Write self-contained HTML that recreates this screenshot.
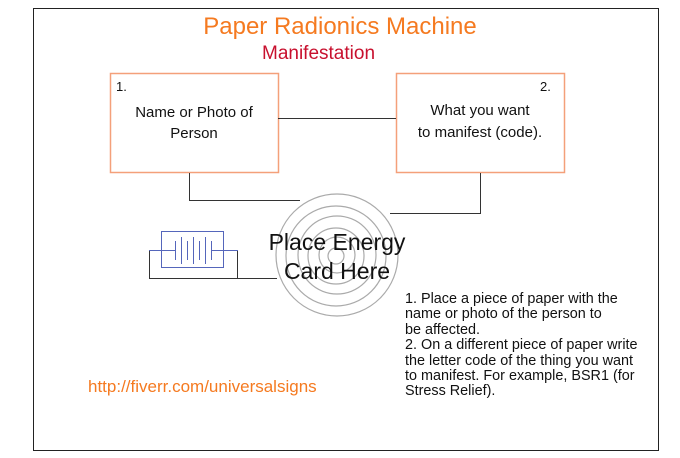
<!DOCTYPE html>
<html><head><meta charset="utf-8"><style>
body{margin:0;background:#fff;width:680px;height:458px;position:relative;overflow:hidden;font-family:"Liberation Sans",sans-serif}
.a{position:absolute;white-space:nowrap}
</style></head><body>
<svg width="680" height="458" style="position:absolute;left:0;top:0">
<rect x="33.5" y="8.5" width="625" height="442" fill="none" stroke="#222" stroke-width="1"/>
<rect x="110.5" y="73.5" width="168" height="99" fill="none" stroke="#f4a07a" stroke-width="1.5"/>
<rect x="396.5" y="73.5" width="168" height="99" fill="none" stroke="#f4a07a" stroke-width="1.5"/>
<g stroke="#333" stroke-width="1" fill="none">
<line x1="278" y1="118.5" x2="396" y2="118.5"/>
<polyline points="189.5,173 189.5,200.5 300,200.5"/>
<polyline points="480.5,173 480.5,213.5 390,213.5"/>
<polyline points="161,250.5 149.5,250.5 149.5,278.5 277,278.5"/>
<polyline points="224,250.5 237.5,250.5 237.5,278.5"/>
</g>
<g stroke="#aaa" stroke-width="1.2" fill="none">
<circle cx="337" cy="255" r="61"/>
<circle cx="336" cy="256" r="50"/>
<circle cx="337" cy="255" r="39"/>
<circle cx="336" cy="256" r="28"/>
<circle cx="337" cy="255" r="18"/>
<circle cx="336" cy="256" r="8"/>
</g>
<g stroke="#5566bb" stroke-width="1" fill="none">
<rect x="161.5" y="231.5" width="62" height="36"/>
<line x1="149" y1="250.5" x2="175" y2="250.5"/>
<line x1="211" y1="250.5" x2="238" y2="250.5"/>
<line x1="175.5" y1="241" x2="175.5" y2="260"/>
<line x1="181.5" y1="237" x2="181.5" y2="264"/>
<line x1="187.5" y1="241" x2="187.5" y2="260"/>
<line x1="193.5" y1="237" x2="193.5" y2="264"/>
<line x1="199.5" y1="241" x2="199.5" y2="260"/>
<line x1="205.5" y1="237" x2="205.5" y2="264"/>
<line x1="211.5" y1="241" x2="211.5" y2="260"/>
</g>
</svg>
<div class="a" style="left:0;width:680px;text-align:center;top:13px;font-size:24px;color:#f57a20">Paper Radionics Machine</div>
<div class="a" style="left:262px;top:43px;font-size:19px;color:#c8102e">Manifestation</div>
<div class="a" style="left:116px;top:79px;font-size:13px;color:#111">1.</div>
<div class="a" style="left:110px;width:168px;text-align:center;top:102px;font-size:15px;line-height:21px;color:#111">Name or Photo of<br>Person</div>
<div class="a" style="left:540px;top:79px;font-size:13px;color:#111">2.</div>
<div class="a" style="left:396px;width:168px;text-align:center;top:100px;font-size:15px;line-height:22px;color:#111">What you want<br>to manifest (code).</div>
<div class="a" style="left:237px;width:200px;text-align:center;top:228px;font-size:23px;line-height:29px;color:#111">Place Energy<br>Card Here</div>
<div class="a" style="left:405px;top:292px;font-size:14.4px;line-height:15.4px;color:#111">1. Place a piece of paper with the<br>name or photo of the person to<br>be affected.<br>2. On a different piece of paper write<br>the letter code of the thing you want<br>to manifest. For example, BSR1 (for<br>Stress Relief).</div>
<div class="a" style="left:88px;top:377px;font-size:17px;color:#f57a20">http://fiverr.com/universalsigns</div>
</body></html>
